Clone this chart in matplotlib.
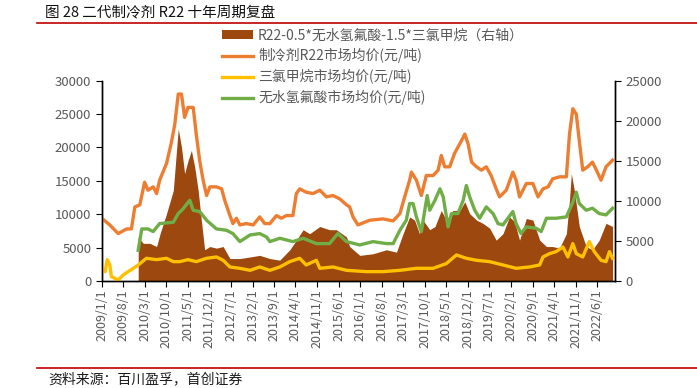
import pandas as pd
import matplotlib
matplotlib.use("Agg")
import matplotlib.pyplot as plt
from matplotlib.lines import Line2D
from matplotlib.patches import Patch

plt.rcParams['font.family'] = ['Noto Sans CJK SC', 'DejaVu Sans']

# 制冷剂R22市场均价 (元/吨, 左轴)
r22_dates = ["2009-01-01", "2009-03-22", "2009-06-13", "2009-09-04", "2009-10-22", "2009-11-25",
             "2010-01-13", "2010-03-01", "2010-04-04", "2010-05-25", "2010-06-28", "2010-07-28",
             "2010-10-04", "2010-11-22", "2010-12-25", "2011-01-28", "2011-03-01", "2011-04-01",
             "2011-05-04", "2011-06-25", "2011-07-25", "2011-08-28", "2011-10-01", "2011-11-04",
             "2011-12-07", "2012-02-10", "2012-04-01", "2012-05-01", "2012-06-22", "2012-07-22",
             "2012-08-25", "2012-09-28", "2012-12-01", "2013-02-07", "2013-04-13", "2013-06-01",
             "2013-07-22", "2013-09-25", "2013-11-13", "2014-01-01", "2014-03-07", "2014-04-10",
             "2014-05-13", "2014-07-16", "2014-09-22", "2014-11-28", "2015-02-01", "2015-04-07",
             "2015-06-13", "2015-08-19", "2015-09-19", "2015-10-22", "2015-12-10", "2016-04-04",
             "2016-08-13", "2016-11-22", "2017-01-28", "2017-03-16", "2017-05-04", "2017-05-22",
             "2017-07-10", "2017-08-28", "2017-10-16", "2017-12-22", "2018-02-10", "2018-03-13",
             "2018-04-16", "2018-06-04", "2018-07-22", "2018-09-28", "2018-11-01", "2018-12-04",
             "2019-01-07", "2019-02-25", "2019-04-13", "2019-06-01", "2019-07-19", "2019-09-07",
             "2019-10-10", "2019-12-16", "2020-02-19", "2020-03-22", "2020-04-25", "2020-07-01",
             "2020-09-04", "2020-10-25", "2020-12-13", "2021-02-01", "2021-03-19", "2021-05-25",
             "2021-08-01", "2021-09-01", "2021-10-04", "2021-11-07", "2021-12-07", "2022-01-10",
             "2022-02-28", "2022-04-16", "2022-05-19", "2022-07-10", "2022-08-28", "2022-11-01"]
r22_price = [9400, 8400, 7100, 7800, 7800, 11100,
             11400, 14800, 13600, 14100, 13100, 15100,
             17600, 20800, 23500, 28000, 28000, 24500,
             26000, 26000, 22000, 18000, 15100, 12800,
             14100, 14100, 13800, 12100, 9800, 8600,
             9400, 8400, 8600, 8400, 9600, 8600,
             8600, 9800, 9400, 9800, 9800, 13100,
             13800, 13300, 13100, 13600, 12600, 12800,
             12300, 11400, 11100, 9600, 8400, 9100,
             9300, 9000, 10100, 12600, 15100, 16300,
             15100, 12800, 15800, 15800, 16600, 18800,
             17100, 17100, 19100, 21000, 22000, 20500,
             17800, 17100, 16600, 17100, 15800, 13800,
             12600, 13600, 16300, 15100, 12600, 14600,
             14600, 12600, 13800, 14100, 15300, 15600,
             15600, 22000, 25800, 25000, 21000, 16600,
             17100, 17800, 16800, 15100, 17100, 18100]

# 三氯甲烷市场均价 (元/吨, 左轴)
tcm_dates = ["2009-01-01", "2009-02-04", "2009-02-25", "2009-03-22", "2009-04-07", "2009-06-13",
             "2009-08-01", "2009-09-19", "2009-11-10", "2009-12-28", "2010-03-19", "2010-06-28",
             "2010-10-04", "2010-12-10", "2011-02-13", "2011-05-04", "2011-07-25", "2011-11-04",
             "2012-02-10", "2012-04-16", "2012-06-22", "2012-09-28", "2013-01-07", "2013-04-13",
             "2013-07-22", "2013-10-28", "2014-02-04", "2014-05-13", "2014-07-16", "2014-10-25",
             "2014-11-28", "2015-04-07", "2015-08-19", "2016-03-01", "2016-08-13", "2017-01-28",
             "2017-07-10", "2017-12-22", "2018-05-01", "2018-08-10", "2018-11-16", "2019-02-25",
             "2019-07-04", "2019-11-13", "2020-03-22", "2020-08-01", "2020-11-10", "2020-12-13",
             "2021-02-16", "2021-04-22", "2021-06-28", "2021-08-16", "2021-10-04", "2021-11-07",
             "2022-01-10", "2022-03-16", "2022-05-04", "2022-07-10", "2022-08-28", "2022-10-01",
             "2022-11-01"]
tcm_price = [1600, 1400, 3200, 2400, 650, 150,
             900, 1400, 1900, 2400, 3400, 3200,
             3400, 2900, 2900, 3200, 2900, 3400,
             3600, 3100, 2100, 1900, 1600, 2100,
             1600, 2100, 2900, 3400, 2400, 3100,
             1900, 2100, 1600, 1400, 1400, 1600,
             1900, 1900, 2600, 3900, 3400, 3100,
             2900, 2400, 1900, 2100, 2400, 3600,
             4100, 4400, 5100, 3600, 5600, 4100,
             3600, 5900, 4400, 3100, 2900, 4400,
             3400]

# 无水氢氟酸市场均价 (元/吨, 左轴)
hf_dates = ["2009-12-28", "2010-02-01", "2010-04-04", "2010-05-25", "2010-07-28", "2010-12-10",
            "2011-01-28", "2011-03-16", "2011-05-22", "2011-06-25", "2011-08-28", "2011-11-04",
            "2012-02-10", "2012-05-19", "2012-07-22", "2012-09-28", "2013-01-07", "2013-04-13",
            "2013-06-19", "2013-07-22", "2013-10-28", "2014-03-07", "2014-06-16", "2014-10-25",
            "2015-03-04", "2015-05-25", "2015-08-19", "2015-12-28", "2016-05-07", "2016-09-16",
            "2016-11-22", "2017-01-28", "2017-04-01", "2017-05-04", "2017-06-07", "2017-07-10",
            "2017-08-28", "2017-10-01", "2017-10-25", "2017-11-19", "2018-01-10", "2018-02-28",
            "2018-04-01", "2018-05-19", "2018-06-22", "2018-08-25", "2018-10-16", "2018-11-16",
            "2018-12-19", "2019-02-07", "2019-03-28", "2019-06-01", "2019-08-07", "2019-09-25",
            "2019-11-13", "2020-02-19", "2020-03-22", "2020-05-10", "2020-07-01", "2020-10-07",
            "2020-11-25", "2021-01-16", "2021-04-22", "2021-08-01", "2021-10-04", "2021-11-07",
            "2021-12-07", "2022-02-13", "2022-04-16", "2022-06-22", "2022-08-28", "2022-11-01"]
hf_price = [4600, 7800, 7800, 7400, 8600, 8800,
            10100, 10800, 12100, 10600, 10400, 9100,
            7800, 7600, 7100, 5900, 6900, 7100,
            6600, 5900, 6400, 5900, 6400, 5600,
            5600, 7100, 5900, 5400, 5900, 5600,
            5600, 7600, 9100, 11600, 11600, 9600,
            7400, 10600, 12800, 10600, 12100, 13800,
            12600, 8100, 10100, 10100, 12100, 14300,
            12600, 10600, 9400, 11100, 10100, 8600,
            8400, 10400, 8600, 7100, 8100, 7900,
            7400, 9400, 9400, 9600, 11800, 13300,
            11600, 10600, 10900, 10100, 9900, 10900]

# R22-0.5*无水氢氟酸-1.5*三氯甲烷 (右轴)
spread_dates = ["2009-12-28", "2010-02-16", "2010-04-22", "2010-06-28", "2010-08-01", "2010-10-04",
                "2010-12-10", "2011-01-28", "2011-03-01", "2011-04-01", "2011-05-04", "2011-06-07",
                "2011-07-10", "2011-08-13", "2011-09-13", "2011-10-16", "2011-12-07", "2012-02-10",
                "2012-04-16", "2012-06-22", "2012-09-28", "2013-01-07", "2013-04-13", "2013-07-22",
                "2013-10-28", "2014-02-04", "2014-04-10", "2014-06-16", "2014-08-19", "2014-11-28",
                "2015-03-04", "2015-05-10", "2015-08-19", "2015-09-19", "2015-12-28", "2016-05-07",
                "2016-09-16", "2016-12-25", "2017-02-28", "2017-05-04", "2017-06-22", "2017-08-10",
                "2017-09-13", "2017-11-19", "2018-01-10", "2018-03-13", "2018-05-01", "2018-07-07",
                "2018-09-13", "2018-11-01", "2018-12-19", "2019-02-25", "2019-04-28", "2019-07-04",
                "2019-09-07", "2019-11-13", "2020-01-16", "2020-03-07", "2020-04-25", "2020-07-01",
                "2020-09-04", "2020-11-10", "2021-01-16", "2021-03-19", "2021-05-25", "2021-08-01",
                "2021-09-01", "2021-09-19", "2021-10-19", "2021-12-07", "2022-02-13", "2022-04-16",
                "2022-06-22", "2022-08-28", "2022-11-01"]
spread = [5500, 4700, 4700, 4300, 5900, 8400,
          11300, 19000, 16700, 13400, 15000, 16300,
          14200, 11300, 7600, 3900, 4300, 4100,
          4300, 2800, 2800, 3000, 3200, 2800,
          2600, 3900, 5100, 6400, 5900, 6800,
          6400, 6400, 5500, 4300, 3200, 3400,
          3900, 3600, 5900, 8000, 7600, 5900,
          7600, 6400, 6800, 8800, 7600, 8800,
          8800, 9900, 8400, 7600, 7200, 6600,
          5100, 5900, 8000, 7400, 5100, 7800,
          7600, 5100, 4300, 4300, 4100, 5900,
          10100, 13400, 11300, 6800, 4300, 3900,
          5100, 7200, 6800]

c_orange = '#ED7D31'
c_yellow = '#FFC000'
c_green = '#70AD47'
c_brown = '#9C480E'
c_text = '#595959'

fig = plt.figure(figsize=(6.97, 3.88), dpi=100)
ax = fig.add_axes([101.7 / 697, 1 - 281 / 388, (615 - 101.7) / 697, (281 - 80.7) / 388])
ax2 = ax.twinx()

ax2.fill_between(pd.to_datetime(spread_dates), spread, color=c_brown, lw=0)
ax.plot(pd.to_datetime(r22_dates), r22_price, color=c_orange, lw=2.4)
ax.plot(pd.to_datetime(tcm_dates), tcm_price, color=c_yellow, lw=2.4)
ax.plot(pd.to_datetime(hf_dates), hf_price, color=c_green, lw=2.4)

ax.set_zorder(ax2.get_zorder() + 1)
ax.patch.set_visible(False)

ax.set_ylim(0, 30000)
ax2.set_ylim(0, 25000)
ax.set_yticks(range(0, 30001, 5000))
ax2.set_yticks(range(0, 25001, 5000))
ax.set_xlim(pd.Timestamp("2009-01-01"), pd.Timestamp("2022-11-25"))

ticks = pd.date_range("2009-01-01", "2022-06-01", freq="7MS")
ax.set_xticks(ticks)
ax.set_xticklabels([f"{d.year}/{d.month}/{d.day}" for d in ticks], rotation=90)

for a in (ax, ax2):
    a.spines['top'].set_visible(False)
    for s in ('left', 'right', 'bottom'):
        a.spines[s].set_color('black')
        a.spines[s].set_linewidth(1.0)
    a.tick_params(colors=c_text, labelsize=9.5, direction='out', length=4)
    a.tick_params(axis='both', color='black')
ax.tick_params(axis='x', labelsize=9, pad=2)

handles = [Patch(facecolor=c_brown, edgecolor='none'),
           Line2D([], [], color=c_orange, lw=2.4),
           Line2D([], [], color=c_yellow, lw=2.4),
           Line2D([], [], color=c_green, lw=2.4)]
labels = ['R22-0.5*无水氢氟酸-1.5*三氯甲烷（右轴）',
          '制冷剂R22市场均价(元/吨)',
          '三氯甲烷市场均价(元/吨)',
          '无水氢氟酸市场均价(元/吨)']
leg = fig.legend(handles, labels, loc='upper left', bbox_to_anchor=(222 / 697, 1 - 28.5 / 388),
                 frameon=False, fontsize=10, labelspacing=0.42, handlelength=2.2,
                 handleheight=0.55, handletextpad=0.4, borderpad=0, borderaxespad=0)
for t in leg.get_texts():
    t.set_color(c_text)

# title and source lines
fig.text(45 / 697, 1 - 12 / 388, '图 28 二代制冷剂 R22 十年周期复盘', fontsize=10.5,
         va='center', ha='left', color='#111111')
fig.add_artist(Line2D([37 / 697, 1], [1 - 22.5 / 388, 1 - 22.5 / 388], color='#C00000', lw=1.2))
fig.add_artist(Line2D([37 / 697, 1], [1 - 368 / 388, 1 - 368 / 388], color='#C00000', lw=1.2))
fig.text(48 / 697, 1 - 379 / 388, '资料来源：百川盈孚，首创证券', fontsize=10,
         va='center', ha='left', color='#1a1a1a', style='italic')

fig.savefig('out.png', dpi=100)
